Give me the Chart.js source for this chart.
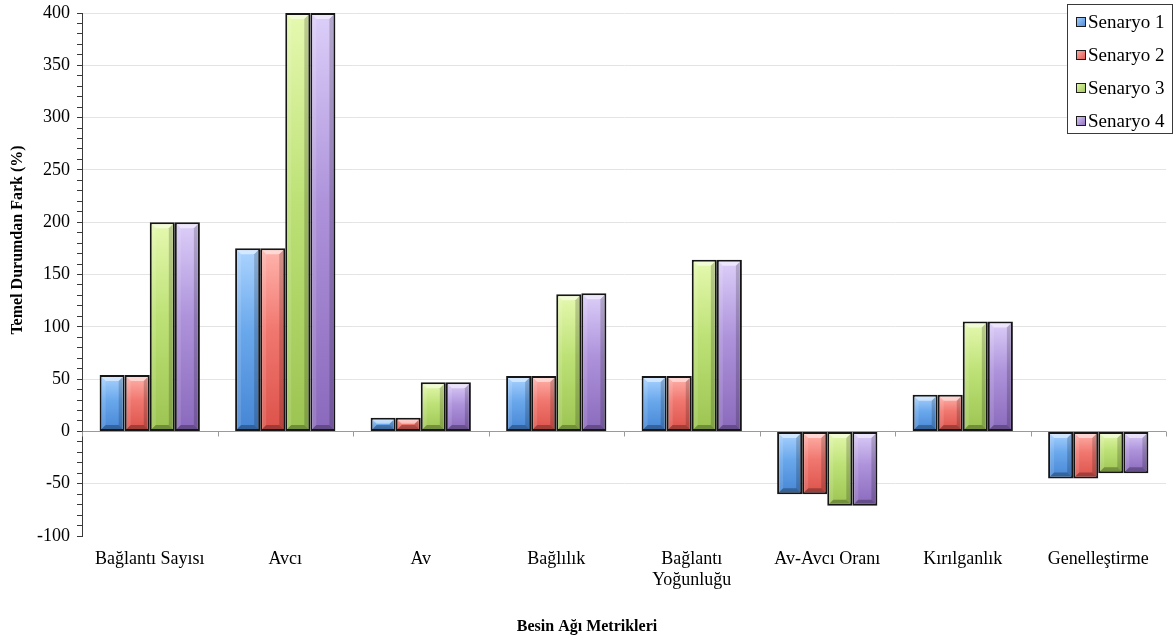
<!DOCTYPE html>
<html lang="tr">
<head>
<meta charset="utf-8">
<title>Besin Ağı Metrikleri</title>
<script src="https://cdn.jsdelivr.net/npm/chart.js@4.4.1/dist/chart.umd.min.js"></script>
<style>
  html, body { margin: 0; padding: 0; background: #ffffff; }
  #wrap { width: 1174px; height: 639px; position: relative; }
</style>
</head>
<body>
<div id="wrap"><canvas id="chart" width="1174" height="639"></canvas></div>
<script>
// Food-web metrics: percent difference from the baseline for four scenarios
const categories = [
  'Bağlantı Sayısı', 'Avcı', 'Av', 'Bağlılık',
  ['Bağlantı', 'Yoğunluğu'], 'Av-Avcı Oranı', 'Kırılganlık', 'Genelleştirme'
];
const seriesNames = ['Senaryo 1', 'Senaryo 2', 'Senaryo 3', 'Senaryo 4'];
const senaryo1 = [54, 175, 13, 53, 53, -60, 35, -45];
const senaryo2 = [54, 175, 13, 53, 53, -60, 35, -45];
const senaryo3 = [200, 400, 47, 131, 164, -71, 105, -40];
const senaryo4 = [200, 400, 47, 132, 164, -71, 105, -40];
const yTicks = { min: -100, max: 400, major: 50, minor: 10 };
const xTitle = 'Besin Ağı Metrikleri';
const yTitle = 'Temel Durumdan Fark (%)';

const FONT = "'Liberation Serif', 'Times New Roman', serif";
// light (top), middle and deep (bottom) shade of each series
const palette = [
  { light: '#acd4ff', mid: '#6aa8ec', dark: '#4585d4' },
  { light: '#ffb5ad', mid: '#f0776f', dark: '#dc524a' },
  { light: '#e6f9b0', mid: '#bde176', dark: '#9cc452' },
  { light: '#dccff9', mid: '#ae93db', dark: '#8a69bc' }
];

function barFill(idx) {
  return (ctx) => {
    const chart = ctx.chart;
    const c = palette[idx];
    if (!chart.chartArea || ctx.type !== 'data') return c.mid;
    const y = chart.scales.y;
    const v = ctx.raw;
    const top = y.getPixelForValue(Math.max(v, 0));
    const bot = y.getPixelForValue(Math.min(v, 0));
    if (!isFinite(top) || !isFinite(bot) || top === bot) return c.mid;
    const g = chart.ctx.createLinearGradient(0, top, 0, bot);
    g.addColorStop(0, c.light);
    g.addColorStop(0.45, c.mid);
    g.addColorStop(1, c.dark);
    return g;
  };
}

const seriesValues = [senaryo1, senaryo2, senaryo3, senaryo4];
const datasets = seriesValues.map((vals, i) => ({
  label: seriesNames[i],
  data: vals,
  backgroundColor: barFill(i),
  borderColor: '#161616',
  borderWidth: 2,
  borderSkipped: false,
  barPercentage: 1.0,
  categoryPercentage: 0.74
}));

// Bevelled edges on every bar, placed from the bar elements' own geometry
const bevelPlugin = {
  id: 'bevel',
  afterDatasetsDraw(chart) {
    const g = chart.ctx;
    chart.data.datasets.forEach((ds, di) => {
      const meta = chart.getDatasetMeta(di);
      if (meta.hidden) return;
      meta.data.forEach((el) => {
        const p = el.getProps(['x', 'y', 'base', 'width'], true);
        const l = p.x - p.width / 2 + 2, r = p.x + p.width / 2 - 2;
        const t = Math.min(p.y, p.base) + 2, b = Math.max(p.y, p.base) - 2;
        const h = b - t;
        const e = Math.min(4, h / 2, (r - l) / 2);
        if (e <= 0) return;
        g.save();
        const poly = (pts, fill) => {
          g.beginPath();
          g.moveTo(pts[0][0], pts[0][1]);
          for (let k = 1; k < pts.length; k++) g.lineTo(pts[k][0], pts[k][1]);
          g.closePath();
          g.fillStyle = fill;
          g.fill();
        };
        poly([[l, t], [r, t], [r - e, t + e], [l + e, t + e]], 'rgba(255,255,255,0.5)');
        poly([[l, t], [l + e, t + e], [l + e, b - e], [l, b]], 'rgba(255,255,255,0.12)');
        poly([[r, t], [r - e, t + e], [r - e, b - e], [r, b]], 'rgba(0,0,0,0.18)');
        poly([[l, b], [l + e, b - e], [r - e, b - e], [r, b]], 'rgba(0,0,0,0.28)');
        g.restore();
      });
    });
  }
};

// Category separators hanging under the zero line
const zeroTicksPlugin = {
  id: 'zeroTicks',
  afterDatasetsDraw(chart) {
    const x = chart.scales.x, y = chart.scales.y;
    const zy = Math.round(y.getPixelForValue(0)) + 0.5;
    const g = chart.ctx;
    g.save();
    g.strokeStyle = '#9a9a9a';
    g.lineWidth = 1;
    const n = categories.length;
    for (let i = 0; i <= n; i++) {
      let px;
      if (i === 0) px = x.left;
      else if (i === n) px = x.right;
      else px = (x.getPixelForValue(i - 1) + x.getPixelForValue(i)) / 2;
      px = Math.round(px) + 0.5;
      g.beginPath();
      g.moveTo(px, zy);
      g.lineTo(px, zy + 5);
      g.stroke();
    }
    g.restore();
  }
};

// Axis titles: horizontal one centred on the whole canvas, vertical one beside the axis
const axisTitlePlugin = {
  id: 'axisTitles',
  afterDraw(chart) {
    const g = chart.ctx;
    g.save();
    g.fillStyle = '#000000';
    g.font = 'bold 16px ' + FONT;
    g.textAlign = 'center';
    g.textBaseline = 'middle';
    g.fillText(xTitle, chart.width / 2, 627);
    g.translate(18, 240);
    g.rotate(-Math.PI / 2);
    g.fillText(yTitle, 0, 0);
    g.restore();
  }
};

// Boxed legend in the upper right corner
const boxLegendPlugin = {
  id: 'boxLegend',
  afterDraw(chart) {
    const g = chart.ctx;
    const bx = 1067.5, by = 4.5, bw = 105, bh = 129;
    g.save();
    g.fillStyle = '#ffffff';
    g.fillRect(bx, by, bw, bh);
    g.strokeStyle = '#3a3a3a';
    g.lineWidth = 1;
    g.strokeRect(bx, by, bw, bh);
    g.font = '19px ' + FONT;
    g.textBaseline = 'middle';
    g.textAlign = 'left';
    chart.data.datasets.forEach((ds, i) => {
      const cy = 22 + i * 33;
      const sx = 1076, sy = cy - 5, s = 10;
      const c = palette[i];
      const gr = g.createLinearGradient(sx, sy, sx + s, sy + s);
      gr.addColorStop(0, c.light);
      gr.addColorStop(1, c.dark);
      g.fillStyle = gr;
      g.fillRect(sx, sy, s, s);
      g.strokeStyle = '#1c1c1c';
      g.strokeRect(sx + 0.5, sy + 0.5, s - 1, s - 1);
      g.fillStyle = '#000000';
      g.fillText(ds.label, 1088, cy + 1);
    });
    g.restore();
  }
};

new Chart(document.getElementById('chart'), {
  type: 'bar',
  data: { labels: categories, datasets },
  plugins: [bevelPlugin, zeroTicksPlugin, axisTitlePlugin, boxLegendPlugin],
  options: {
    responsive: false,
    animation: false,
    devicePixelRatio: 1,
    layout: { padding: { top: 13, right: 8, left: 0, bottom: 0 } },
    plugins: {
      legend: { display: false },
      tooltip: { enabled: false }
    },
    scales: {
      x: {
        grid: { display: false, drawTicks: false },
        border: { display: false },
        ticks: {
          color: '#000000',
          font: { family: FONT, size: 18 },
          padding: 12,
          maxRotation: 0,
          autoSkip: false
        },
        afterFit(scale) {
          scale.height = 103;
          scale.paddingLeft = 0;
          scale.paddingRight = 0;
        }
      },
      y: {
        min: yTicks.min,
        max: yTicks.max,
        border: { display: true, color: '#3a3a3a', width: 1 },
        grid: {
          color: (ctx) => {
            const v = ctx.tick ? ctx.tick.value : null;
            if (v === 0) return '#9a9a9a';
            if (v !== null && v % yTicks.major === 0 && v !== yTicks.min) return '#e4e4e4';
            return 'rgba(0,0,0,0)';
          },
          tickColor: '#3a3a3a',
          tickLength: 5,
          lineWidth: 1
        },
        ticks: {
          stepSize: yTicks.minor,
          autoSkip: false,
          color: '#000000',
          font: { family: FONT, size: 18 },
          padding: 7,
          callback: (v) => (v % yTicks.major === 0 ? String(v) : '')
        },
        afterFit(scale) {
          scale.width = 82;
          scale.paddingTop = 0;
          scale.paddingBottom = 0;
        }
      }
    }
  }
});
</script>
</body>
</html>
